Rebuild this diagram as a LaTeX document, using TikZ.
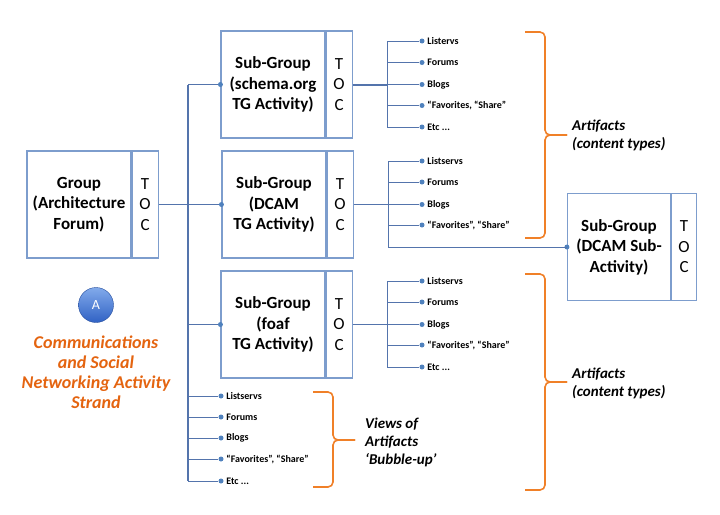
\documentclass[tikz,border=0pt]{standalone}
\usepackage{fontspec}
\setmainfont{Carlito}
\usetikzlibrary{positioning}
\definecolor{boxline}{RGB}{125,157,205}
\definecolor{wire}{RGB}{84,116,172}
\definecolor{dotblue}{RGB}{79,129,189}
\definecolor{strand}{RGB}{228,100,16}
\definecolor{bracec}{RGB}{240,128,40}
\definecolor{balltop}{RGB}{130,170,235}
\definecolor{ballbot}{RGB}{48,98,196}
\tikzset{
  grp/.style={draw=boxline,line width=1.1pt,align=center,inner sep=0pt,
              minimum width=104pt,minimum height=107pt,
              font=\bfseries\fontsize{17}{20.5}\selectfont},
  toc/.style={grp,minimum width=26pt,font=\fontsize{17}{20.5}\selectfont},
  item/.style={anchor=west,inner sep=2.5pt,font=\bfseries\fontsize{10}{12}\selectfont},
  wr/.style={draw=wire,line width=0.9pt},
  tocl/.style={wr,line width=1.4pt},
  dot/.style={circle,fill=dotblue,inner sep=0pt,minimum size=5pt},
  brc/.style={draw=bracec,line width=1.6pt,rounded corners=5pt},
  blbl/.style={align=left,inner sep=1pt,font=\bfseries\itshape\fontsize{15}{18}\selectfont},
}
% x, top, tip, bottom of a brace
\newcommand{\curly}[4]{%
  \draw[brc] (#1,#2) -- (#1+20,#2) -- (#1+20,#3) -- (#1+42,#3);
  \draw[brc] (#1,#4) -- (#1+20,#4) -- (#1+20,#3) -- (#1+42,#3);
}

\begin{document}
\begin{tikzpicture}[x=1pt,y=-1pt]
\useasboundingbox (0,0) rectangle (720,514);

% boxes
\node[grp] (grp) at (79,204.5) {Group\\(Architecture\\Forum)};
\node[toc, right=0pt of grp] (grpt) {T\\O\\C};
\node[grp] (sg1) at (273,84.5) {Sub-Group\\(schema.org\\TG Activity)};
\node[toc, right=0pt of sg1] (sg1t) {T\\O\\C};
\node[grp] (sg2) at (274,204.5) {Sub-Group\\(DCAM\\TG Activity)};
\node[toc, right=0pt of sg2] (sg2t) {T\\O\\C};
\node[grp] (sg4) at (273,324.5) {Sub-Group\\(foaf\\TG Activity)};
\node[toc, right=0pt of sg4] (sg4t) {T\\O\\C};
\node[grp, minimum width=103pt] (sg3) at (619,247) {Sub-Group\\(DCAM Sub-\\Activity)};
\node[toc, right=0pt of sg3, minimum width=25pt] (sg3t) {T\\O\\C};

% trunk from the group
\coordinate (tr) at (188,0);
\foreach \y/\t [count=\i] in {396/Listservs, 417/Forums, 438/Blogs,
    459/{“Favorites”, “Share”}, 481/{Etc ...}} {
  \node[dot] (v\i) at (221,\y) {};
  \node[item] at (v\i.east) {\t};
  \draw[wr] (v\i -| tr) -- (v\i);
}
\draw[wr, line width=1.3pt] (sg1.west -| tr) -- (v5 -| tr);
\draw[wr] (sg1.west -| tr) -- (sg1.west);
\draw[wr] (grpt.east) -- (sg2.west);
\draw[wr] (sg4.west -| tr) -- (sg4.west);
\foreach \n in {sg1,sg2,sg4,sg3} \node[dot] at (\n.west) {};

% artifacts of schema.org
\coordinate (b1) at (387,0);
\foreach \y/\t [count=\i] in {41/Listervs, 62.5/Forums, 84.5/Blogs,
    105.5/{“Favorites, “Share”}, 127/{Etc ...}} {
  \node[dot] (a\i) at (422,\y) {};
  \node[item] at (a\i.east) {\t};
  \draw[wr] (a\i -| b1) -- (a\i);
}
\draw[wr] (a1 -| b1) -- (a5 -| b1);
\draw[tocl, line width=2pt] (sg1t.east) -- (sg1t.east -| b1);

% artifacts of DCAM
\coordinate (b2) at (388,0);
\foreach \y/\t [count=\i] in {161/Listservs, 182/Forums, 204.5/Blogs,
    225/{“Favorites”, “Share”}} {
  \node[dot] (c\i) at (422,\y) {};
  \node[item] at (c\i.east) {\t};
  \draw[wr] (c\i -| b2) -- (c\i);
}
\draw[wr] (c1 -| b2) -- (sg3.west -| b2) -- (sg3.west);
\draw[tocl] (sg2t.east) -- (sg2t.east -| b2);

% artifacts of foaf
\coordinate (b4) at (387,0);
\foreach \y/\t [count=\i] in {281/Listservs, 302/Forums, 324.5/Blogs,
    345/{“Favorites”, “Share”}, 367/{Etc ...}} {
  \node[dot] (e\i) at (422,\y) {};
  \node[item] at (e\i.east) {\t};
  \draw[wr] (e\i -| b4) -- (e\i);
}
\draw[wr] (e1 -| b4) -- (e5 -| b4);
\draw[tocl] (sg4t.east) -- (sg4t.east -| b4);

% braces
\curly{525}{32}{135}{238}
\curly{525}{274}{382}{490}
\curly{313}{392}{440}{487}
\node[blbl, anchor=west] (art1) at (571,135.5) {Artifacts\\(content types)};
\node[blbl, anchor=west] (art2) at (571,383.5) {Artifacts\\(content types)};
\node[blbl, anchor=west] (views) at (364,442.5) {Views of\\Artifacts\\‘Bubble-up’};

% strand
\node[circle, minimum size=35pt, inner sep=0pt, top color=balltop,
      bottom color=ballbot, draw=ballbot!80!black, line width=0.4pt,
      text=white, font=\fontsize{14}{14}\selectfont] (ball) at (96,305) {A};
\node[align=center, text=strand,
      font=\bfseries\itshape\fontsize{18}{20}\selectfont] (strand) at (96,372)
  {Communications\\and Social\\Networking Activity\\Strand};
\end{tikzpicture}
\end{document}
